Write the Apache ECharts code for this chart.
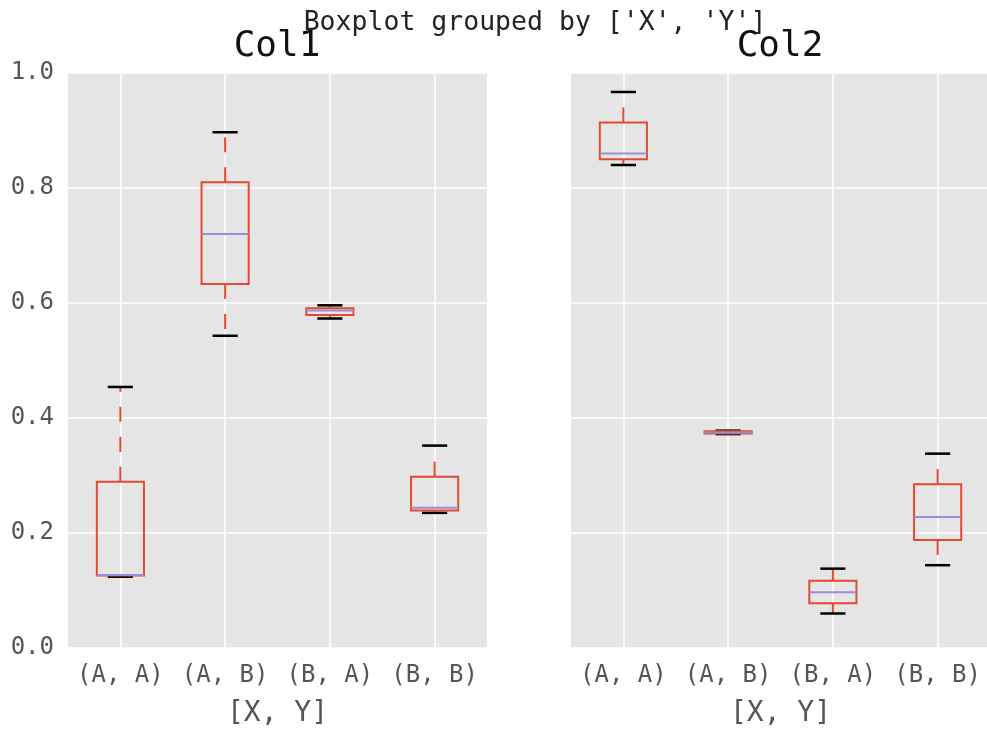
<!DOCTYPE html>
<html>
<head>
<meta charset="utf-8">
<script src="https://cdn.jsdelivr.net/npm/echarts@6/dist/echarts.min.js"></script>
<style>
  html, body { margin: 0; padding: 0; background: #fff; }
  #chart { width: 987px; height: 732px; }
</style>
</head>
<body>
<div id="chart"></div>
<script>
// categories shared by both panels
var categories = ['(A, A)', '(A, B)', '(B, A)', '(B, B)'];
var yTicks = [0, 0.2, 0.4, 0.6, 0.8, 1.0];

// [min, q1, median, q3, max] for each category
var col1Boxes = [
	[0.124, 0.126, 0.127, 0.289, 0.454],
	[0.543, 0.633, 0.720, 0.810, 0.897],
	[0.573, 0.579, 0.587, 0.591, 0.596],
	[0.235, 0.239, 0.244, 0.298, 0.352]
];
var col2Boxes = [
	[0.840, 0.850, 0.860, 0.914, 0.967],
	[0.372, 0.373, 0.375, 0.377, 0.378],
	[0.060, 0.078, 0.097, 0.117, 0.138],
	[0.144, 0.188, 0.228, 0.285, 0.338]
];

var font = 'DejaVu Sans Mono';
var boxColor = '#E24A33';
var medianColor = '#988ED5';

function renderBox(params, api) {
	var idx = api.value(0);
	var band = api.size([1, 0])[0];
	var xc = api.coord([idx, 0])[0];
	var yMin = api.coord([idx, api.value(1)])[1];
	var yQ1 = api.coord([idx, api.value(2)])[1];
	var yMed = api.coord([idx, api.value(3)])[1];
	var yQ3 = api.coord([idx, api.value(4)])[1];
	var yMax = api.coord([idx, api.value(5)])[1];
	var hw = band * 0.225;
	var cw = band * 0.12;
	var whisker = { stroke: boxColor, lineWidth: 2, lineDash: [15, 15] };
	var cap = { stroke: '#000', lineWidth: 2.5 };
	return {
		type: 'group',
		children: [
			{ type: 'line', shape: { x1: xc, y1: yQ3, x2: xc, y2: yMax }, style: whisker },
			{ type: 'line', shape: { x1: xc, y1: yQ1, x2: xc, y2: yMin }, style: whisker },
			{ type: 'line', shape: { x1: xc - cw, y1: yMax, x2: xc + cw, y2: yMax }, style: cap },
			{ type: 'line', shape: { x1: xc - cw, y1: yMin, x2: xc + cw, y2: yMin }, style: cap },
			{ type: 'rect', shape: { x: xc - hw, y: yQ3, width: hw * 2, height: yQ1 - yQ3 },
				style: { fill: 'none', stroke: boxColor, lineWidth: 2 } },
			{ type: 'line', shape: { x1: xc - hw, y1: yMed, x2: xc + hw, y2: yMed },
				style: { stroke: medianColor, lineWidth: 2 } }
		]
	};
}

function toData(boxes) {
	return boxes.map(function (b, i) {
		return [i].concat(b);
	});
}

function xAxisFor(gridIndex) {
	return {
		type: 'category',
		gridIndex: gridIndex,
		data: categories,
		name: '[X, Y]',
		nameLocation: 'middle',
		nameGap: 52,
		nameTextStyle: { fontFamily: font, fontSize: 28, color: '#555' },
		axisLine: { show: false },
		axisTick: { show: false, alignWithLabel: true },
		axisLabel: { fontFamily: font, fontSize: 24, color: '#555', margin: 16, interval: 0 },
		splitLine: { show: true, alignWithLabel: true, lineStyle: { color: '#fff', width: 1.5 } }
	};
}

function yAxisFor(gridIndex, showLabels) {
	return {
		type: 'value',
		gridIndex: gridIndex,
		min: yTicks[0],
		max: yTicks[yTicks.length - 1],
		interval: 0.2,
		axisLine: { show: false },
		axisTick: { show: false },
		axisLabel: {
			show: showLabels,
			fontFamily: font, fontSize: 24, color: '#555', margin: 14,
			formatter: function (v) { return v.toFixed(1); }
		},
		splitLine: { show: true, lineStyle: { color: '#fff', width: 1.5 } }
	};
}

var option = {
	animation: false,
	backgroundColor: '#fff',
	title: [
		{
			text: "Boxplot grouped by ['X', 'Y']",
			left: 530, top: 5, textAlign: 'center',
			textStyle: { fontFamily: font, fontSize: 26.5, fontWeight: 'normal', color: '#222' }
		},
		{
			text: 'Col1',
			left: 272, top: 24, textAlign: 'center',
			textStyle: { fontFamily: font, fontSize: 36, fontWeight: 'normal', color: '#111' }
		},
		{
			text: 'Col2',
			left: 775, top: 24, textAlign: 'center',
			textStyle: { fontFamily: font, fontSize: 36, fontWeight: 'normal', color: '#111' }
		}
	],
	grid: [
		{ left: 68, top: 73, width: 419, height: 575, outerBoundsMode: 'none',
			show: true, backgroundColor: '#E5E5E5', borderWidth: 0 },
		{ left: 571, top: 73, width: 419, height: 575, outerBoundsMode: 'none',
			show: true, backgroundColor: '#E5E5E5', borderWidth: 0 }
	],
	xAxis: [xAxisFor(0), xAxisFor(1)],
	yAxis: [yAxisFor(0, true), yAxisFor(1, false)],
	series: [
		{
			type: 'custom', name: 'Col1', xAxisIndex: 0, yAxisIndex: 0,
			renderItem: renderBox, data: toData(col1Boxes), clip: false
		},
		{
			type: 'custom', name: 'Col2', xAxisIndex: 1, yAxisIndex: 1,
			renderItem: renderBox, data: toData(col2Boxes), clip: false
		}
	]
};

var myChart = echarts.init(document.getElementById('chart'));
myChart.setOption(option, true);
</script>
</body>
</html>
